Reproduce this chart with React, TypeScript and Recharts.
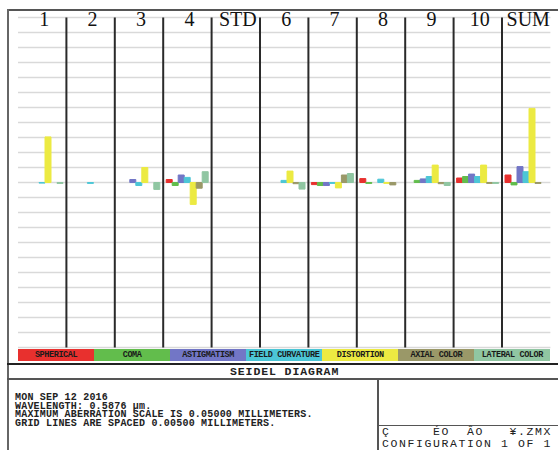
import React from 'react';
import { BarChart, Bar, XAxis, YAxis, CartesianGrid, Legend } from 'recharts';

// Surfaces shown across the top of the diagram
const SURFACES = ['1', '2', '3', '4', 'STD', '6', '7', '8', '9', '10', 'SUM'];

// Seidel coefficients per surface (mm)
const SPHERICAL = [0, 0, 0, 0.001, 0, 0, -0.0007, 0.0013, 0, 0.0015, 0.0025];
const COMA = [0, 0, 0, -0.001, 0, 0, -0.001, -0.0003, 0.0007, 0.002, -0.0008];
const ASTIGMATISM = [0, 0, 0.001, 0.0025, 0, 0, -0.001, 0, 0.0012, 0.0028, 0.0053];
const FIELD_CURVATURE = [-0.0002, -0.0003, -0.001, 0.0017, 0, 0.0007, -0.0003, 0.0011, 0.002, 0.002, 0.0036];
const DISTORTION = [0.0152, 0, 0.005, -0.0073, 0, 0.0038, -0.0018, -0.0003, 0.0058, 0.0058, 0.0247];
const AXIAL_COLOR = [0, 0, 0, -0.0019, 0, -0.0004, 0.0025, -0.0008, -0.0004, -0.0003, -0.0003];
const LATERAL_COLOR = [-0.0003, 0, -0.0023, 0.0036, 0, -0.0022, 0.003, 0, -0.001, -0.0003, 0];

// grid: max scale 0.05 mm, lines every 0.005 mm
const GRID_TICKS = Array.from({ length: 21 }, (_, i) => Number((-0.05 + i * 0.005).toFixed(3)));

const SERIES = [
  { key: 'spherical', name: 'SPHERICAL', values: SPHERICAL, color: '#e8302e' },
  { key: 'coma', name: 'COMA', values: COMA, color: '#62bd4c' },
  { key: 'astigmatism', name: 'ASTIGMATISM', values: ASTIGMATISM, color: '#7276c6' },
  { key: 'fieldCurvature', name: 'FIELD CURVATURE', values: FIELD_CURVATURE, color: '#4cc6d6' },
  { key: 'distortion', name: 'DISTORTION', values: DISTORTION, color: '#ecea42' },
  { key: 'axialColor', name: 'AXIAL COLOR', values: AXIAL_COLOR, color: '#9a9868' },
  { key: 'lateralColor', name: 'LATERAL COLOR', values: LATERAL_COLOR, color: '#90c6a2' },
];

const data = SURFACES.map((s, i) => {
  const row: Record<string, string | number> = { surface: s };
  SERIES.forEach(ser => { row[ser.key] = ser.values[i]; });
  return row;
});

const MONO = '"Liberation Mono", "DejaVu Sans Mono", monospace';

const TopTick = (props: any) => {
  const { x, payload } = props;
  return (
    <text x={x + 2} y={26} textAnchor="middle" fontFamily='"Liberation Serif", "DejaVu Serif", serif' fontSize={20} fill="#111">
      {payload.value}
    </text>
  );
};

// legend strip in series order
const LegendStrip = () => (
  <div style={{ display: 'flex', width: '100%', height: 12 }}>
    {SERIES.map(s => (
      <div key={s.key} style={{
        flex: 1, background: s.color, color: '#1a1a1a', fontFamily: MONO, fontSize: 8.5, fontWeight: 'bold',
        lineHeight: '12px', textAlign: 'center', letterSpacing: -0.4, whiteSpace: 'nowrap', overflow: 'hidden',
      }}>
        {s.name}
      </div>
    ))}
  </div>
);

const Line = ({ style }: { style: React.CSSProperties }) => (
  <div style={{ position: 'absolute', ...style }} />
);

export default function App() {
  return (
    <div style={{ position: 'absolute', left: 0, top: 0, width: 558, height: 450, overflow: 'hidden', background: '#fff' }}>
      <BarChart
        width={558}
        height={450}
        data={data}
        margin={{ top: 0.5, right: 7.6, bottom: 102.5, left: 18 }}
        barGap={0}
        barSize={6}
      >
        <CartesianGrid vertical={false} stroke="#d9d9d9" strokeWidth={1.6} />
        <XAxis
          dataKey="surface"
          orientation="top"
          height={17}
          axisLine={false}
          tickLine={false}
          interval={0}
          tick={<TopTick />}
        />
        <YAxis hide type="number" domain={[-0.055, 0.055]} ticks={GRID_TICKS} interval={0} allowDataOverflow />
        {SERIES.map(s => (
          <Bar
            key={s.key}
            dataKey={s.key}
            name={s.name}
            fill={s.color}
            stroke={s.color}
            strokeWidth={1}
            isAnimationActive={false}
          />
        ))}
        <CartesianGrid
          horizontal={false}
          stroke="#2a2a2a"
          strokeWidth={2}
          verticalCoordinatesGenerator={({ offset }: any) =>
            SURFACES.slice(1).map((_, i) => offset.left + ((i + 1) * offset.width) / SURFACES.length)
          }
        />
        <Legend
          verticalAlign="middle"
          layout="horizontal"
          content={<LegendStrip />}
          wrapperStyle={{ position: 'absolute', left: 18, top: 349, width: 532.4, height: 12 }}
        />
      </BarChart>

      {/* frame */}
      <Line style={{ left: 7, top: 9, width: 551, height: 1.5, background: '#555' }} />
      <Line style={{ left: 7, top: 9, width: 1.5, height: 441, background: '#666' }} />
      <Line style={{ left: 7, top: 363, width: 551, height: 2, background: '#222' }} />
      <Line style={{ left: 7, top: 378, width: 551, height: 2, background: '#555' }} />
      <Line style={{ left: 376.5, top: 379, width: 2, height: 71, background: '#555' }} />
      <Line style={{ left: 377, top: 424.5, width: 181, height: 1.5, background: '#555' }} />

      <div style={{
        position: 'absolute', left: 230, top: 365, fontFamily: MONO, fontSize: 11.5, fontWeight: 'bold',
        letterSpacing: 0.9, lineHeight: '13px', color: '#222',
      }}>
        SEIDEL DIAGRAM
      </div>

      <div style={{
        position: 'absolute', left: 15, top: 394, fontFamily: MONO, fontSize: 10, fontWeight: 'bold',
        letterSpacing: 0.2, lineHeight: '8.5px', color: '#222', whiteSpace: 'pre',
      }}>
        {'MON SEP 12 2016\nWAVELENGTH: 0.5876 µm.\nMAXIMUM ABERRATION SCALE IS 0.05000 MILLIMETERS.\nGRID LINES ARE SPACED 0.00500 MILLIMETERS.'}
      </div>

      <div style={{
        position: 'absolute', left: 382, top: 426, fontFamily: MONO, fontSize: 11.5,
        letterSpacing: 1.6, lineHeight: '11.5px', color: '#222', whiteSpace: 'pre',
      }}>
        {'Ç     ÉO  ÂO   ¥.ZMX\nCONFIGURATION 1 OF 1'}
      </div>
    </div>
  );
}
